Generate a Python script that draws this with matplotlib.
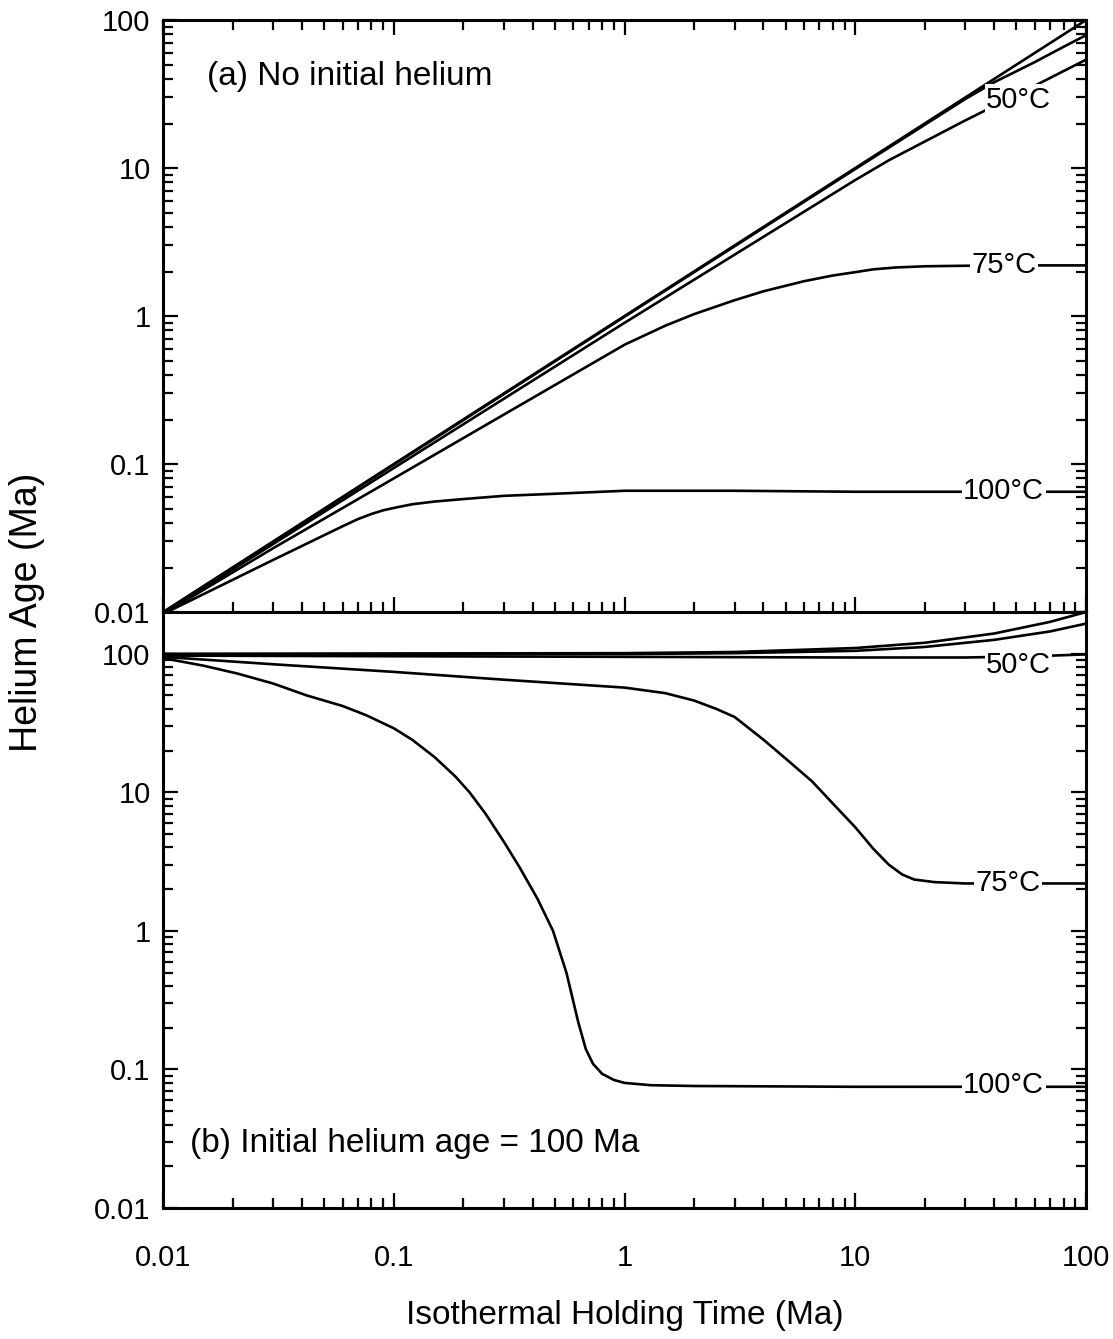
import numpy as np
import matplotlib
matplotlib.use("Agg")
import matplotlib.pyplot as plt
from matplotlib.ticker import LogLocator, FuncFormatter, NullFormatter

plt.rcParams['font.family'] = ['Liberation Sans', 'DejaVu Sans']

# --- (a) No initial helium: helium age vs holding time ---
a_t0 = [0.01, 1, 100]
a_y0 = [0.01, 1, 100]
a_t25 = [0.01, 0.1, 1, 10, 30, 40, 60, 80, 100]
a_y25 = [0.0099, 0.099, 0.99, 9.85, 29.3, 38, 52, 66, 79]
a_t50 = [0.01, 0.1, 1, 3, 10, 14, 30, 60, 100]
a_y50 = [0.0098, 0.094, 0.90, 2.6, 8.3, 11.3, 21, 36, 54]
a_t75 = [0.01, 0.03, 0.1, 0.3, 1, 1.5, 2, 3, 4, 6, 8, 10, 12, 15, 20, 40, 100]
a_y75 = [0.0097, 0.027, 0.08, 0.216, 0.64, 0.86, 1.03, 1.28, 1.47, 1.72, 1.88, 1.98, 2.07, 2.13, 2.17, 2.2, 2.2]
a_t100 = [0.01, 0.03, 0.06, 0.07, 0.08, 0.09, 0.1, 0.12, 0.15, 0.2, 0.3, 0.5, 1, 3, 10, 100]
a_y100 = [0.0097, 0.0225, 0.038, 0.0425, 0.046, 0.0487, 0.0505, 0.0535, 0.0558, 0.058, 0.061, 0.063,
          0.066, 0.066, 0.065, 0.065]

# --- (b) Initial helium age = 100 Ma ---
b_t0 = [0.01, 1, 3, 10, 20, 40, 70, 100]
b_y0 = [100, 101, 103, 110, 120, 140, 170, 200]
b_t25 = [0.01, 1, 3, 10, 20, 40, 70, 100]
b_y25 = [99, 99.5, 101, 105, 112, 126, 145, 165]
b_t50 = [0.01, 0.1, 1, 10, 30, 60, 100]
b_y50 = [97, 96, 95, 94, 94, 96, 99]
b_t75 = [0.01, 0.03, 0.1, 0.3, 1, 1.5, 2, 2.5, 3, 4, 5, 6.5, 8, 10, 12, 14, 16, 18, 22, 30, 100]
b_y75 = [95, 84, 74, 65, 57, 52, 46, 40, 35, 24, 17.5, 12, 8.3, 5.6, 3.9, 3.0, 2.55, 2.35, 2.25, 2.2, 2.2]
b_t100 = [0.01, 0.015, 0.021, 0.03, 0.042, 0.06, 0.076, 0.1, 0.12, 0.15, 0.185, 0.213, 0.25, 0.3,
          0.35, 0.42, 0.49, 0.56, 0.63, 0.68, 0.73, 0.8, 0.9, 1.0, 1.3, 2, 10, 100]
b_y100 = [93, 82, 72, 61, 50, 42, 36, 29, 24, 18, 13, 10, 7, 4.4,
          2.9, 1.7, 1.0, 0.5, 0.22, 0.14, 0.11, 0.093, 0.084, 0.08, 0.077, 0.076, 0.075, 0.075]

# temperature labels: (text, x, y)
a_labels = [("50°C", 51, 29), ("75°C", 44, 2.2), ("100°C", 44, 0.066)]
b_labels = [("50°C", 51, 83), ("75°C", 46, 2.2), ("100°C", 44, 0.077)]

yticks = [0.01, 0.1, 1, 10, 100]
xticks = [0.01, 0.1, 1, 10, 100]


def fmt(v, pos):
    return "%g" % v


fig = plt.figure(figsize=(11.13, 13.39), dpi=100)
ax1 = fig.add_axes([0.1465, 0.5429, 0.8292, 0.4421])
ax2 = fig.add_axes([0.1465, 0.0978, 0.8292, 0.4451])

lw = 1.9
for t, y in [(a_t0, a_y0), (a_t25, a_y25), (a_t50, a_y50), (a_t75, a_y75), (a_t100, a_y100)]:
    ax1.plot(t, y, color='black', lw=lw, solid_capstyle='butt')
for t, y in [(b_t0, b_y0), (b_t25, b_y25), (b_t50, b_y50), (b_t75, b_y75), (b_t100, b_y100)]:
    ax2.plot(t, y, color='black', lw=lw, solid_capstyle='butt')

for ax, labels in [(ax1, a_labels), (ax2, b_labels)]:
    for txt, x, y in labels:
        ax.text(x, y, txt, fontsize=21, ha='center', va='center', zorder=5,
                bbox=dict(boxstyle='square,pad=0.05', fc='white', ec='none'))

ax1.set_ylim(0.01, 100)
ax2.set_ylim(0.01, 200)

for ax in (ax1, ax2):
    ax.set_xscale('log')
    ax.set_yscale('log')
    ax.set_xlim(0.01, 100)
    ax.set_xticks(xticks)
    ax.set_yticks(yticks)
    ax.xaxis.set_major_formatter(FuncFormatter(fmt))
    ax.yaxis.set_major_formatter(FuncFormatter(fmt))
    ax.xaxis.set_minor_locator(LogLocator(base=10, subs=np.arange(2, 10)))
    ax.yaxis.set_minor_locator(LogLocator(base=10, subs=np.arange(2, 10)))
    ax.xaxis.set_minor_formatter(NullFormatter())
    ax.yaxis.set_minor_formatter(NullFormatter())
    for s in ax.spines.values():
        s.set_linewidth(2.2)
    ax.tick_params(which='both', direction='in', right=True, width=1.6, labelsize=21)
    ax.tick_params(which='major', length=11)
    ax.tick_params(which='minor', length=7)
    ax.tick_params(axis='y', pad=9)

ax1.tick_params(which='both', top=True, bottom=True, labelbottom=False)
ax2.tick_params(which='both', top=False, bottom=True)
ax2.tick_params(axis='x', pad=26)

ax1.text(0.048, 0.905, "(a) No initial helium", transform=ax1.transAxes,
         fontsize=24, ha='left', va='center')
ax2.text(0.029, 0.109, "(b) Initial helium age = 100 Ma", transform=ax2.transAxes,
         fontsize=24, ha='left', va='center')

ax2.set_xlabel("Isothermal Holding Time (Ma)", fontsize=24, labelpad=20)
fig.text(0.024, 0.543, "Helium Age (Ma)", rotation=90, fontsize=27,
         ha='center', va='center')

fig.savefig("out.png", dpi=100)
